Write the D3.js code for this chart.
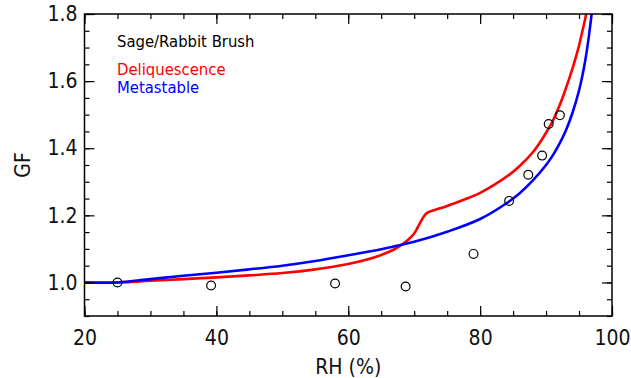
<!DOCTYPE html>
<html>
<head>
<meta charset="utf-8">
<script src="https://cdn.jsdelivr.net/npm/d3@7"></script>
<style>
  body { margin: 0; background: #fff; }
  svg { display: block; }
  text { font-family: "Liberation Sans Narrow", "Arial Narrow", "DejaVu Sans Condensed", sans-serif; }
</style>
</head>
<body>
<svg id="chart" width="631" height="378"></svg>
<script>
// Growth factor vs relative humidity, Sage/Rabbit Brush smoke
const xTicks = [20, 40, 60, 80, 100];
const yTicks = [1.0, 1.2, 1.4, 1.6, 1.8];

// Measured growth factors [RH %, GF]
const measured = [
  [25.0, 1.000], [39.2, 0.991], [58.0, 0.997], [68.7, 0.988], [79.0, 1.085],
  [84.4, 1.243], [87.3, 1.321], [89.4, 1.378], [90.4, 1.472], [92.1, 1.498]
];

// Deliquescence branch [RH %, GF]
const deliquescence = [
  [20, 1.000], [25, 1.000], [30, 1.005], [35, 1.010], [40, 1.015], [45, 1.021],
  [50, 1.028], [55, 1.039], [60, 1.055], [63, 1.069], [65, 1.082], [67, 1.099],
  [68, 1.111], [69, 1.126], [70, 1.146], [70.5, 1.163], [71, 1.181], [71.5, 1.198],
  [72, 1.208], [73, 1.215], [75, 1.228], [78, 1.250], [80, 1.267], [82, 1.289],
  [84.5, 1.322], [86, 1.347], [88, 1.388], [89, 1.415], [90, 1.446], [91, 1.481],
  [92, 1.525], [93, 1.578], [94, 1.637], [94.5, 1.670], [95, 1.706], [95.5, 1.748],
  [96, 1.792], [96.2, 1.815]
];

// Metastable (efflorescence) branch [RH %, GF]
const metastable = [
  [20, 1.000], [25, 1.000], [30, 1.010], [35, 1.020], [40, 1.029], [45, 1.039],
  [50, 1.050], [55, 1.064], [60, 1.081], [65, 1.099], [70, 1.121], [75, 1.151],
  [80, 1.189], [84, 1.236], [86, 1.266], [88, 1.304], [90, 1.350], [91, 1.378],
  [92, 1.412], [93, 1.453], [94, 1.505], [95, 1.572], [95.5, 1.615], [96, 1.668],
  [96.5, 1.735], [97, 1.815]
];

const legendItems = [
  { label: "Sage/Rabbit Brush", color: "#000000" },
  { label: "Deliquescence", color: "#ff0000" },
  { label: "Metastable", color: "#0000ff" }
];

const margin = { left: 84.5, right: 19, top: 14, bottom: 62 };
const W = 631, H = 378;
const iw = W - margin.left - margin.right;
const ih = H - margin.top - margin.bottom;

const svg = d3.select("#chart");
const g = svg.append("g").attr("transform", `translate(${margin.left},${margin.top})`);

const x = d3.scaleLinear().domain([20, 100]).range([0, iw]);
const y = d3.scaleLinear().domain([0.9, 1.8]).range([ih, 0]);

// clip curves to the plotting frame
svg.append("defs").append("clipPath").attr("id", "frame")
  .append("rect").attr("width", iw).attr("height", ih);

const plot = g.append("g").attr("clip-path", "url(#frame)");

const line = d3.line().x(d => x(d[0])).y(d => y(d[1])).curve(d3.curveCatmullRom.alpha(0.5));

plot.append("path").datum(deliquescence)
  .attr("d", line).attr("fill", "none").attr("stroke", "#ff0000").attr("stroke-width", 2.6);
plot.append("path").datum(metastable)
  .attr("d", line).attr("fill", "none").attr("stroke", "#0000ff").attr("stroke-width", 2.6);

plot.selectAll("circle").data(measured).join("circle")
  .attr("cx", d => x(d[0])).attr("cy", d => y(d[1])).attr("r", 4.4)
  .attr("fill", "none").attr("stroke", "#000").attr("stroke-width", 1.2);

// axes with inward ticks on all four sides
const xMinor = d3.range(20, 100.01, 5);
const yMinor = d3.range(0.9, 1.8001, 0.05);

function styleAxis(sel) {
  sel.select(".domain").remove();
  sel.selectAll("line").attr("stroke", "#000").attr("stroke-width", 1.2);
  sel.selectAll("text").attr("font-size", 21).attr("fill", "#111");
}

// bottom
g.append("g").attr("transform", `translate(0,${ih})`)
  .call(d3.axisBottom(x).tickValues(xMinor).tickSize(-5).tickFormat(""))
  .call(styleAxis);
g.append("g").attr("transform", `translate(0,${ih})`)
  .call(d3.axisBottom(x).tickValues(xTicks).tickSize(-10).tickPadding(14).tickFormat(d3.format("d")))
  .call(styleAxis);
// top
g.append("g")
  .call(d3.axisTop(x).tickValues(xMinor).tickSize(-5).tickFormat(""))
  .call(styleAxis);
g.append("g")
  .call(d3.axisTop(x).tickValues(xTicks).tickSize(-10).tickFormat(""))
  .call(styleAxis);
// left
g.append("g")
  .call(d3.axisLeft(y).tickValues(yMinor).tickSize(-5).tickFormat(""))
  .call(styleAxis);
g.append("g")
  .call(d3.axisLeft(y).tickValues(yTicks).tickSize(-10).tickPadding(7).tickFormat(d3.format(".1f")))
  .call(styleAxis);
// right
g.append("g").attr("transform", `translate(${iw},0)`)
  .call(d3.axisRight(y).tickValues(yMinor).tickSize(-5).tickFormat(""))
  .call(styleAxis);
g.append("g").attr("transform", `translate(${iw},0)`)
  .call(d3.axisRight(y).tickValues(yTicks).tickSize(-10).tickFormat(""))
  .call(styleAxis);

// frame
g.append("rect").attr("width", iw).attr("height", ih)
  .attr("fill", "none").attr("stroke", "#000").attr("stroke-width", 1.5);

// axis titles
svg.append("text").attr("x", margin.left + iw / 2).attr("y", 374)
  .attr("text-anchor", "middle").attr("font-size", 21).attr("fill", "#111").text("RH (%)");
svg.append("text").attr("transform", `translate(30,165) rotate(-90)`)
  .attr("text-anchor", "middle").attr("font-size", 21).attr("fill", "#111").text("GF");

// legend
const legY = [47, 75, 93];
svg.selectAll("text.legend").data(legendItems).join("text")
  .attr("class", "legend")
  .attr("x", 117).attr("y", (d, i) => legY[i])
  .attr("font-size", 16.5).attr("fill", d => d.color).text(d => d.label);
</script>
</body>
</html>
